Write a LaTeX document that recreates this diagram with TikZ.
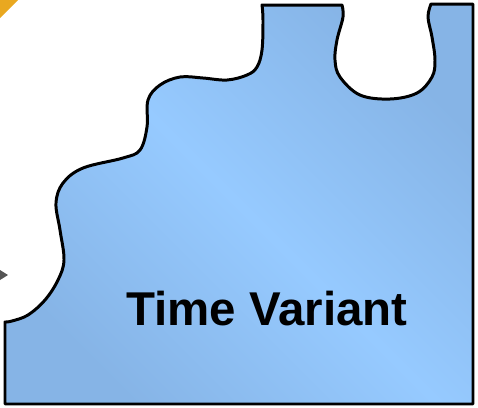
\documentclass[tikz,border=0pt]{standalone}
\usepackage{fontspec}
\newfontfamily\labelfont{Liberation Sans}
\usetikzlibrary{calc}

\definecolor{pieceedge}{RGB}{134,180,230}
\definecolor{piecemid}{RGB}{150,202,255}
\definecolor{tabyellow}{RGB}{233,168,32}
\definecolor{tipgray}{RGB}{85,85,85}

\begin{document}
\begin{tikzpicture}[
        x=0.02cm, y=-0.02cm,
        piece/.style={draw=black, line width=1.7pt, line join=round,
            left color=pieceedge, right color=pieceedge, middle color=piecemid,
            shading angle=135},
        piecelabel/.style={font=\labelfont\bfseries\fontsize{27}{32}\selectfont,
            text=black, anchor=base, inner sep=0pt},
    ]
        \useasboundingbox (0,0) rectangle (478,407);

        % Cut-off neighbours
        \fill[tabyellow] (0,0) -- (18,0) -- (0,18) -- cycle;
        \fill[tipgray] (0,270) -- (8,275) -- (0,280) -- cycle;

        % Puzzle piece
        \path[piece] (5,404) -- (473,404) -- (473,4) -- (431,4)
            -- plot[smooth, tension=0.6] coordinates {(431,4) (428,17) (432,37) (435,60) (432,77)
                (417,93) (390,99) (360,95) (340,77) (335,60) (337,40) (343,17) (342,5)}
            -- (262,5)
            -- plot[smooth, tension=0.6] coordinates {(262,5) (263,20) (262,50) (257,67) (247,75)
                (227,80) (203,78) (180,77) (160,85) (148,100) (147,127) (140,150) (123,158)
                (83,168) (63,183) (56,203) (60,230) (64,260) (58,280) (45,300) (28,315)
                (12,321) (5,322)}
            -- cycle;

        % Label
        \node[piecelabel] (timevariant) at (267,325) {Time Variant};

\end{tikzpicture}
\end{document}
